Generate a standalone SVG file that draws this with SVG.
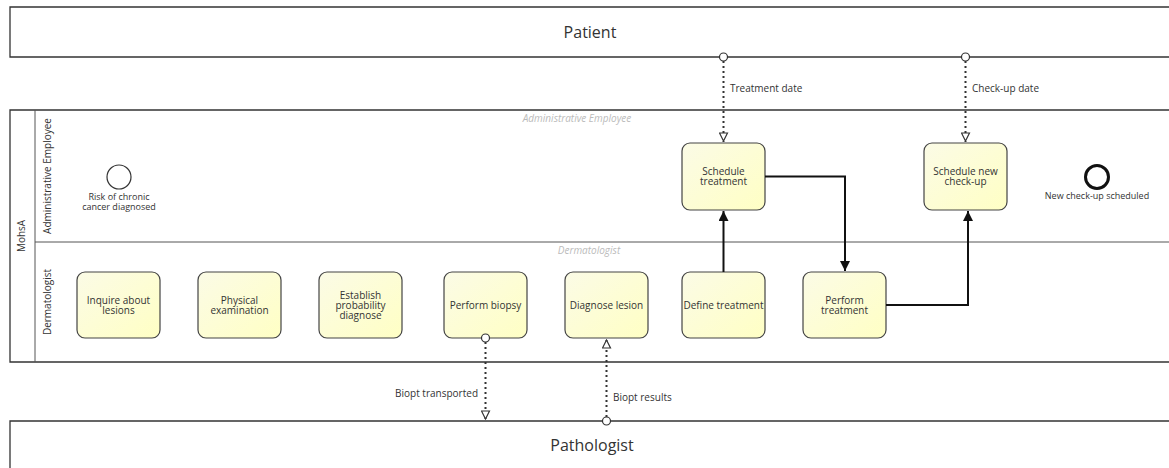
<svg xmlns="http://www.w3.org/2000/svg" width="1169" height="468" viewBox="0 0 1169 468">
  <style>
    text { font-family: "Open Sans", "Noto Sans", "Liberation Sans", sans-serif; fill: #333; }
    .pool { fill: #fff; stroke: #333; stroke-width: 1.3; }
    .lane { fill: none; stroke: #555; stroke-width: 1; }
    .task { fill: url(#taskFill); stroke: #444; stroke-width: 1.2; }
    .tlabel { font-size: 10px; text-anchor: middle; }
    .poolname { font-size: 16px; text-anchor: middle; }
    .lanename { font-size: 10px; text-anchor: middle; }
    .ghost { font-size: 10px; font-style: italic; fill: #bbb; text-anchor: middle; }
    .flow { fill: none; stroke: #111; stroke-width: 2; }
    .msg { fill: none; stroke: #333; stroke-width: 2; stroke-dasharray: 2 3; }
    .msgsrc { fill: #fff; stroke: #333; stroke-width: 1.2; }
    .small { font-size: 9px; }
    .msglabel { font-size: 10px; }
  </style>
  <defs>
    <linearGradient id="taskFill" x1="0" y1="0" x2="1" y2="1">
      <stop offset="0" stop-color="#fbfbe6"/>
      <stop offset="1" stop-color="#ffffc4"/>
    </linearGradient>
    <marker id="seqArrow" viewBox="0 0 10 10" refX="10" refY="5" markerWidth="5" markerHeight="5" orient="auto" markerUnits="strokeWidth">
      <path d="M0,0 L10,5 L0,10 Z" fill="#111"/>
    </marker>
    <marker id="msgArrow" viewBox="0 0 10 10" refX="10" refY="5" markerWidth="5" markerHeight="5" orient="auto" markerUnits="strokeWidth">
      <path d="M1,1 L9,5 L1,9 Z" fill="#fff" stroke="#333" stroke-width="1.2"/>
    </marker>
  </defs>

  <rect width="1169" height="468" fill="#fff"/>

  <!-- Patient pool -->
  <g id="pool-patient">
    <path class="pool" d="M1172,7 H10 V57 H1172"/>
    <text class="poolname" x="590" y="38">Patient</text>
  </g>

  <!-- MohsA pool with two lanes -->
  <g id="pool-mohsa">
    <path class="pool" d="M1172,110 H10 V362 H1172"/>
    <line class="lane" x1="35" y1="110" x2="35" y2="362"/>
    <line class="lane" x1="35" y1="242" x2="1172" y2="242"/>
    <text class="lanename" transform="translate(25,236) rotate(-90)">MohsA</text>
    <text class="lanename" transform="translate(51,176) rotate(-90)">Administrative Employee</text>
    <text class="lanename" transform="translate(51,302) rotate(-90)">Dermatologist</text>
    <text class="ghost" x="577" y="122">Administrative Employee</text>
    <text class="ghost" x="589" y="254">Dermatologist</text>
  </g>

  <!-- Pathologist pool -->
  <g id="pool-pathologist">
    <path class="pool" d="M10,472 V421 H1172"/>
    <text class="poolname" x="592" y="451">Pathologist</text>
  </g>

  <!-- Events -->
  <g id="start-event">
    <circle cx="119" cy="177" r="12" fill="#fff" stroke="#333" stroke-width="1.2"/>
    <text class="tlabel small" x="119" y="200">Risk of chronic</text>
    <text class="tlabel small" x="119" y="210">cancer diagnosed</text>
  </g>
  <g id="end-event">
    <circle cx="1097" cy="177" r="11.5" fill="#fff" stroke="#111" stroke-width="3"/>
    <text class="tlabel small" x="1097" y="199">New check-up scheduled</text>
  </g>

  <!-- Tasks -->
  <g id="task-inquire">
    <rect class="task" x="77" y="272" width="83" height="66" rx="8"/>
    <text class="tlabel" x="118.5" y="304">Inquire about</text>
    <text class="tlabel" x="118.5" y="314">lesions</text>
  </g>
  <g id="task-physical">
    <rect class="task" x="198" y="272" width="83" height="66" rx="8"/>
    <text class="tlabel" x="239.5" y="304">Physical</text>
    <text class="tlabel" x="239.5" y="314">examination</text>
  </g>
  <g id="task-establish">
    <rect class="task" x="319" y="272" width="83" height="66" rx="8"/>
    <text class="tlabel" x="360.5" y="298.5">Establish</text>
    <text class="tlabel" x="360.5" y="308.5">probability</text>
    <text class="tlabel" x="360.5" y="318.5">diagnose</text>
  </g>
  <g id="task-biopsy">
    <rect class="task" x="444" y="272" width="83" height="66" rx="8"/>
    <text class="tlabel" x="485.5" y="309">Perform biopsy</text>
  </g>
  <g id="task-diagnose">
    <rect class="task" x="565" y="272" width="83" height="66" rx="8"/>
    <text class="tlabel" x="606.5" y="309">Diagnose lesion</text>
  </g>
  <g id="task-define">
    <rect class="task" x="682" y="272" width="83" height="66" rx="8"/>
    <text class="tlabel" x="723.5" y="309">Define treatment</text>
  </g>
  <g id="task-perform">
    <rect class="task" x="803" y="272" width="83" height="66" rx="8"/>
    <text class="tlabel" x="844.5" y="304">Perform</text>
    <text class="tlabel" x="844.5" y="314">treatment</text>
  </g>
  <g id="task-schedule-treatment">
    <rect class="task" x="682" y="143" width="83" height="67" rx="8"/>
    <text class="tlabel" x="723.5" y="175">Schedule</text>
    <text class="tlabel" x="723.5" y="185">treatment</text>
  </g>
  <g id="task-schedule-checkup">
    <rect class="task" x="924" y="143" width="83" height="67" rx="8"/>
    <text class="tlabel" x="965.5" y="175">Schedule new</text>
    <text class="tlabel" x="965.5" y="185">check-up</text>
  </g>

  <!-- Connectors -->
  <g id="connectors">
    <!-- sequence flows -->
    <path class="flow" d="M723.5,272 V211" marker-end="url(#seqArrow)"/>
    <path class="flow" d="M765,176.5 H845 V271" marker-end="url(#seqArrow)"/>
    <path class="flow" d="M886,305 H968 V211" marker-end="url(#seqArrow)"/>

    <!-- message flows -->
    <path class="msg" d="M723.5,61 V142" marker-end="url(#msgArrow)"/>
    <circle class="msgsrc" cx="723.5" cy="57" r="4"/>
    <text class="msglabel" x="730" y="91.5">Treatment date</text>

    <path class="msg" d="M965.5,61 V142" marker-end="url(#msgArrow)"/>
    <circle class="msgsrc" cx="965.5" cy="57" r="4"/>
    <text class="msglabel" x="972" y="91.5">Check-up date</text>

    <path class="msg" d="M485.5,342 V420" marker-end="url(#msgArrow)"/>
    <circle class="msgsrc" cx="485.5" cy="338" r="4"/>
    <text class="msglabel" x="478" y="396.5" text-anchor="end">Biopt transported</text>

    <path class="msg" d="M606.5,417 V339" marker-end="url(#msgArrow)"/>
    <circle class="msgsrc" cx="606.5" cy="421" r="4"/>
    <text class="msglabel" x="613" y="400.5">Biopt results</text>
  </g>
</svg>
